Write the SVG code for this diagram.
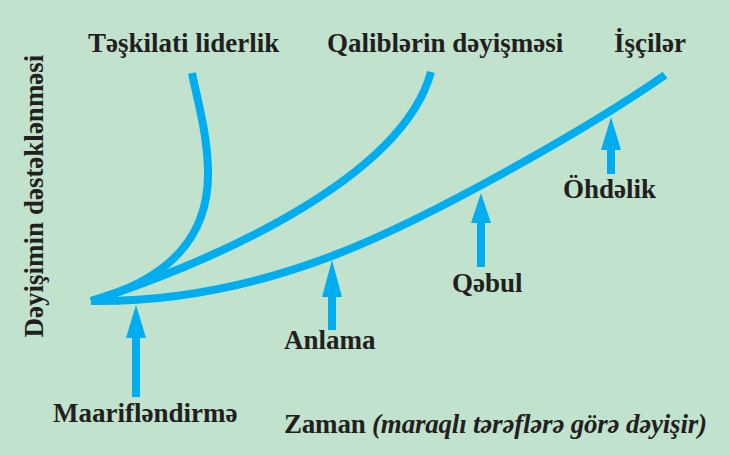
<svg xmlns="http://www.w3.org/2000/svg" width="730" height="455" viewBox="0 0 730 455">
  <style>
    .lbl { font-family: "Liberation Serif", "Times New Roman", serif; font-weight: bold; font-size: 27px; fill: #231f20; }
    .it { font-style: italic; }
    .curve { fill: none; stroke: #00aeef; stroke-width: 8; stroke-linecap: butt; }
    .shaft { stroke: #00aeef; stroke-width: 8; }
    .head { fill: #00aeef; }
  </style>
  <rect x="0" y="0" width="730" height="455" fill="#c1e2cc"/>

  <g id="connectors">
    <path class="curve" d="M91,301 C150,285 210,250 208,170 C207,130 196,95 192,73"/>
    <path class="curve" d="M91,301 C190,270 400,185 431,72"/>
    <path class="curve" d="M91,301 C170,302 252,286.4 332,256 C432,218 595,124 665,75"/>
  </g>

  <g id="axis-y">
    <text class="lbl" transform="translate(43,196) rotate(-90)" text-anchor="middle">Dəyişimin dəstəklənməsi</text>
  </g>

  <g id="node-teskilati">
    <text class="lbl" x="88" y="52">Təşkilati liderlik</text>
  </g>
  <g id="node-qalib">
    <text class="lbl" x="327" y="52">Qaliblərin dəyişməsi</text>
  </g>
  <g id="node-iscier">
    <text class="lbl" x="614" y="52">İşçilər</text>
  </g>

  <g id="node-maariflendirme">
    <line class="shaft" x1="136" y1="397" x2="136" y2="336"/>
    <polygon class="head" points="136,305 146,338 126,338"/>
    <text class="lbl" x="53" y="422">Maarifləndirmə</text>
  </g>

  <g id="node-anlama">
    <line class="shaft" x1="332" y1="330" x2="332" y2="295"/>
    <polygon class="head" points="332,260 342,297 322,297"/>
    <text class="lbl" x="284" y="349">Anlama</text>
  </g>

  <g id="node-qebul">
    <line class="shaft" x1="481" y1="267" x2="481" y2="221"/>
    <polygon class="head" points="481,193 491,223 471,223"/>
    <text class="lbl" x="452" y="292">Qəbul</text>
  </g>

  <g id="node-ohdelik">
    <line class="shaft" x1="611" y1="174" x2="611" y2="148"/>
    <polygon class="head" points="611,117 621,150 601,150"/>
    <text class="lbl" x="563" y="198">Öhdəlik</text>
  </g>

  <g id="axis-x">
    <text class="lbl" x="284" y="433" textLength="423" lengthAdjust="spacing">Zaman <tspan class="it">(maraqlı tərəflərə görə dəyişir)</tspan></text>
  </g>
</svg>
